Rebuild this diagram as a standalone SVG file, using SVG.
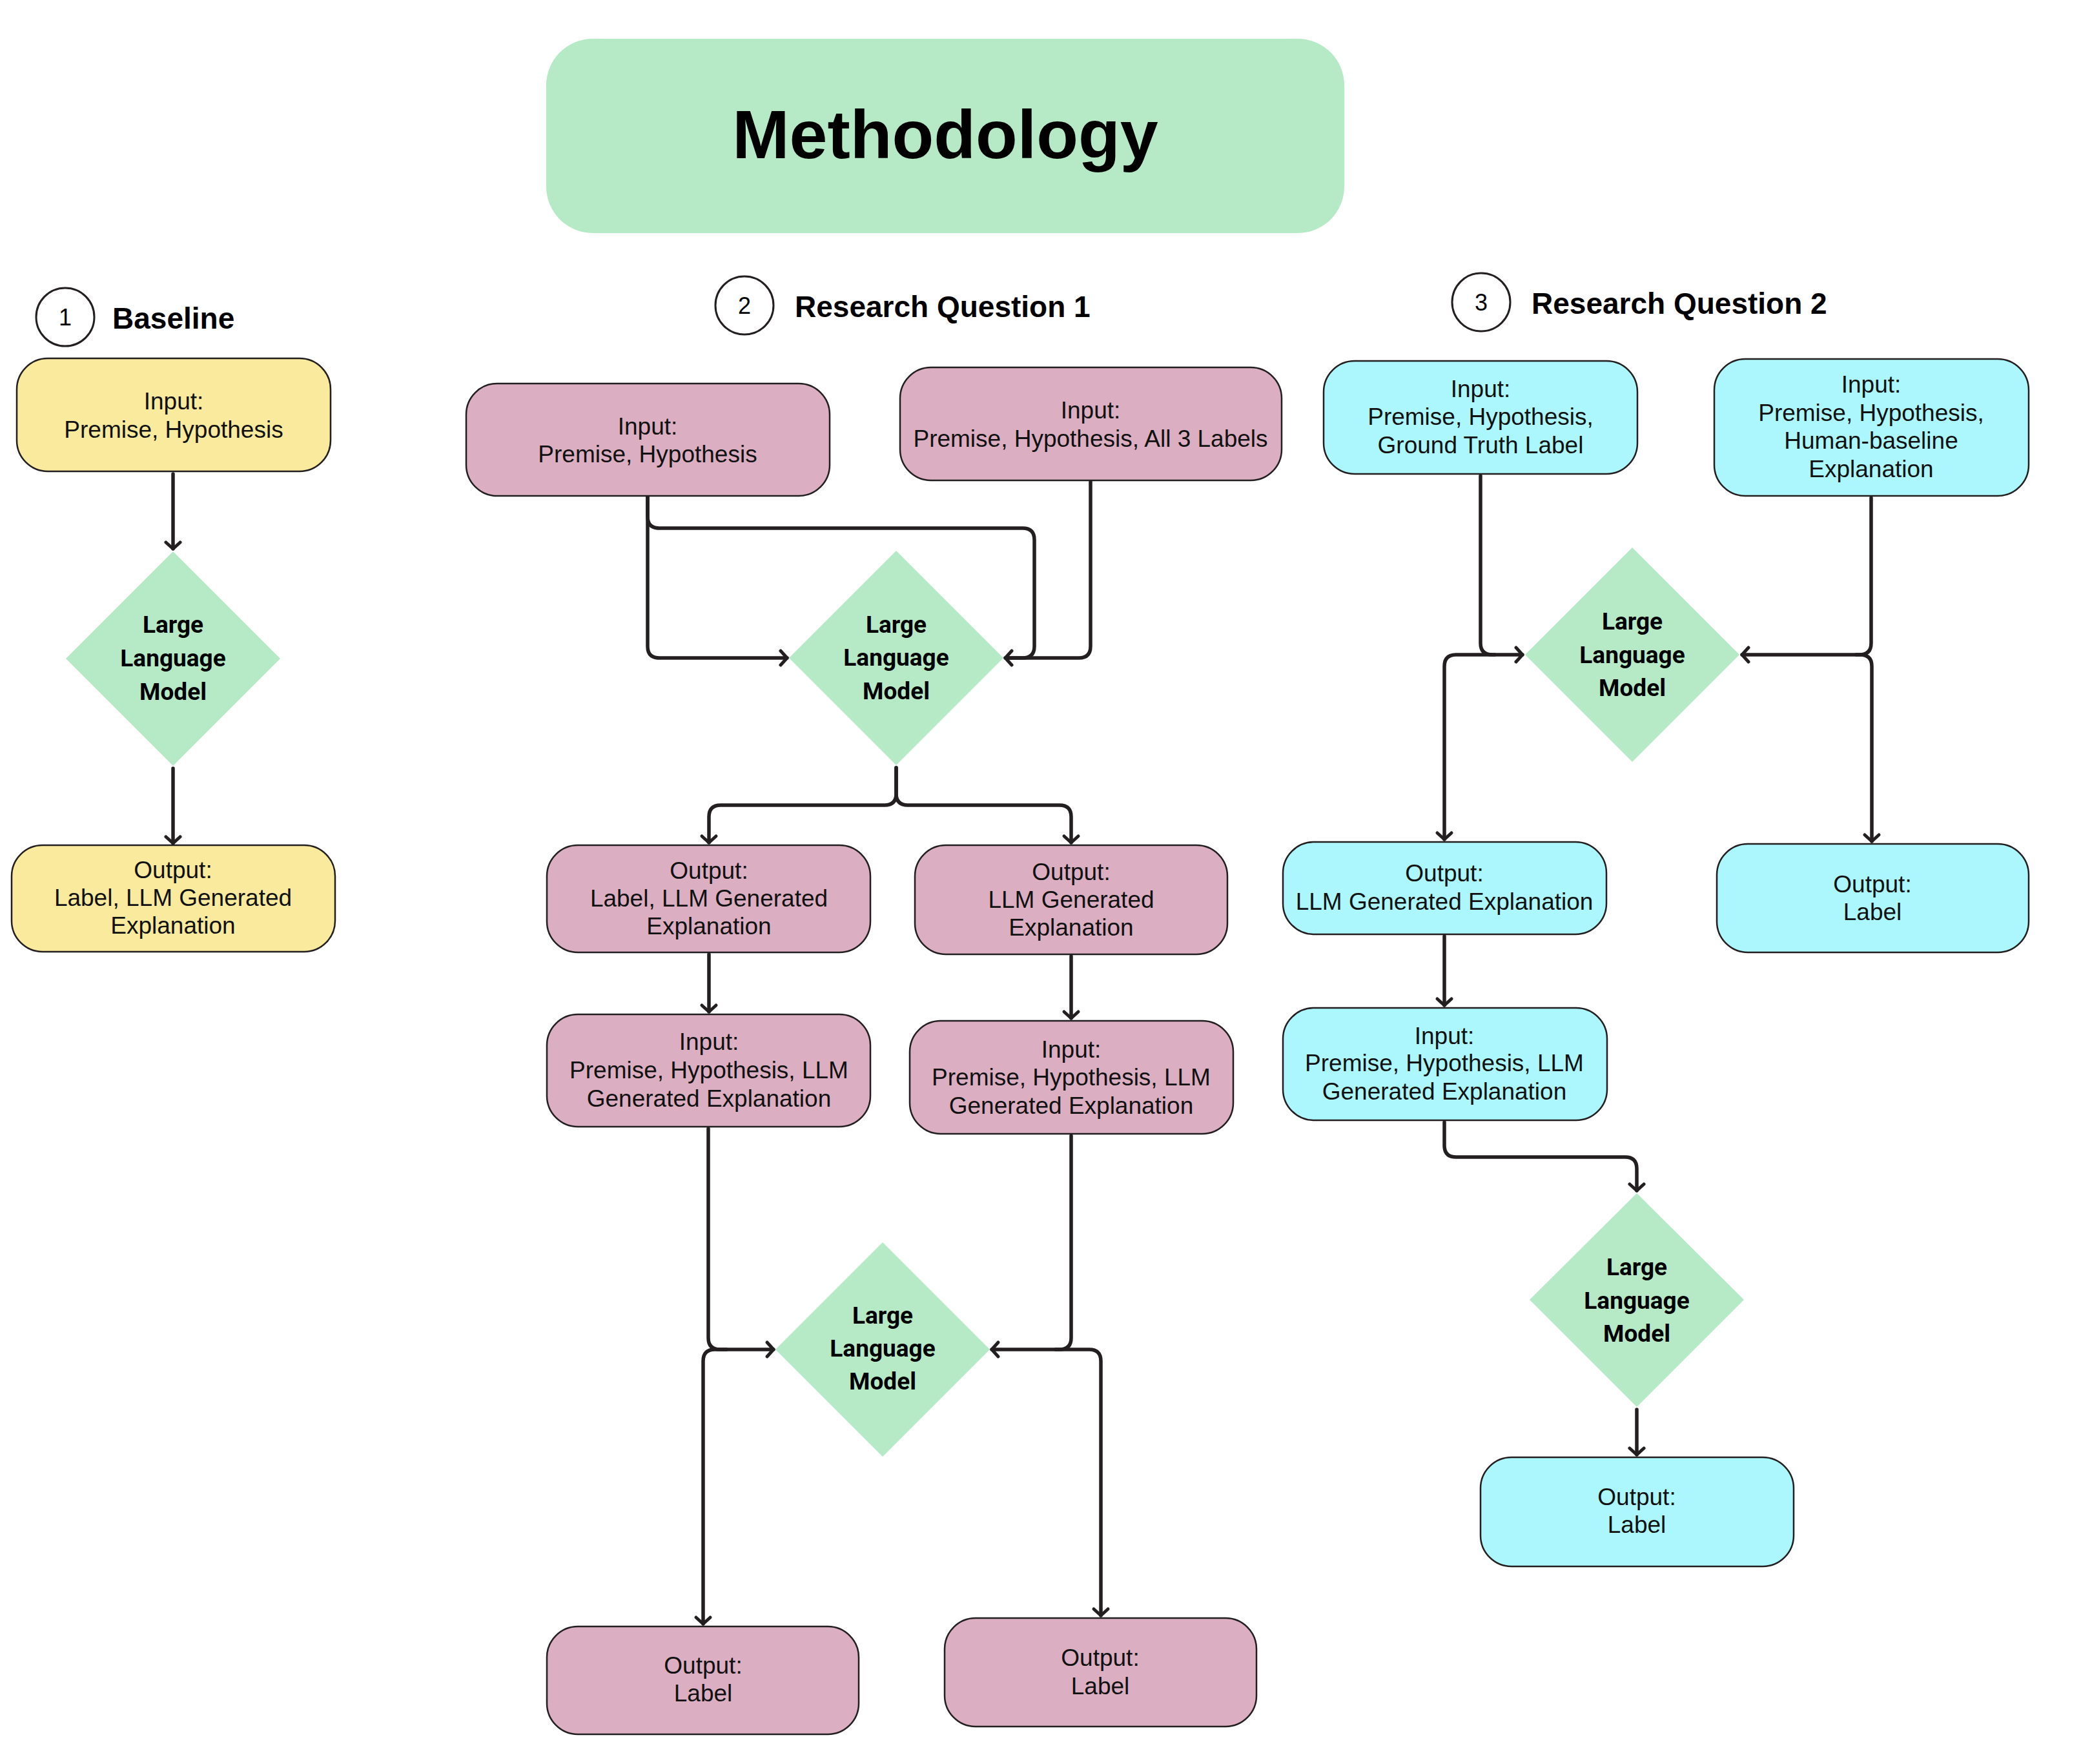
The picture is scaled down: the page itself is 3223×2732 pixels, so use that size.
<svg xmlns="http://www.w3.org/2000/svg" width="3223" height="2732" viewBox="0 0 3223 2732">
<defs>
<style>
.box{stroke:#231f20;stroke-width:2.5}
.y{fill:#f9ea9d}
.p{fill:#dbafc1}
.c{fill:#abf7fd}
.g{fill:#b6eac6}
.t{font-family:"Liberation Sans",Arial,sans-serif;font-size:37px;fill:#111;text-anchor:middle}
.d{font-family:Roboto,"Liberation Sans",sans-serif;font-weight:700;font-size:37px;fill:#000;text-anchor:middle}
.h{font-family:"Liberation Sans",Arial,sans-serif;font-weight:700;font-size:46px;fill:#000}
.n{font-family:"Liberation Sans",Arial,sans-serif;font-size:36px;fill:#000;text-anchor:middle}
.circ{fill:#fff;stroke:#231f20;stroke-width:3}
.con path{fill:none;stroke:#231f20;stroke-width:5.5;stroke-linecap:round;stroke-linejoin:round}
.con path.a{marker-end:url(#arr)}
</style>
<marker id="arr" markerUnits="userSpaceOnUse" markerWidth="32" markerHeight="32" refX="15" refY="16" orient="auto">
<path d="M5,5 L15,16 L5,27" fill="none" stroke="#231f20" stroke-width="5" stroke-linecap="round" stroke-linejoin="round"/>
</marker>
</defs>
<rect width="3223" height="2732" fill="#fff"/>

<g id="title">
<rect x="846" y="60" width="1236" height="301" rx="72" class="g"/>
<text x="1464" y="245" font-family="'Liberation Sans',Arial,sans-serif" font-weight="700" font-size="106" text-anchor="middle" fill="#000">Methodology</text>
</g>

<g id="heading-baseline">
<circle cx="101" cy="491" r="45" class="circ"/>
<text x="101" y="504" class="n">1</text>
<text x="174" y="509" class="h">Baseline</text>
</g>
<g id="heading-rq1">
<circle cx="1153" cy="473" r="45" class="circ"/>
<text x="1153" y="486" class="n">2</text>
<text x="1231" y="491" class="h">Research Question 1</text>
</g>
<g id="heading-rq2">
<circle cx="2294" cy="468" r="45" class="circ"/>
<text x="2294" y="481" class="n">3</text>
<text x="2372" y="486" class="h">Research Question 2</text>
</g>

<!-- Baseline -->
<g id="b-input">
<rect x="26" y="555" width="486" height="175" rx="48" class="box y"/>
<text class="t"><tspan x="269" y="634">Input:</tspan><tspan x="269" y="678">Premise, Hypothesis</tspan></text>
</g>
<g id="b-llm">
<polygon points="268,854 434,1020 268,1186 102,1020" class="g"/>
<text class="d"><tspan x="268" y="980">Large</tspan><tspan x="268" y="1032">Language</tspan><tspan x="268" y="1084">Model</tspan></text>
</g>
<g id="b-output">
<rect x="18" y="1309" width="501" height="165" rx="48" class="box y"/>
<text class="t"><tspan x="268" y="1360">Output:</tspan><tspan x="268" y="1403">Label, LLM Generated</tspan><tspan x="268" y="1446">Explanation</tspan></text>
</g>

<!-- RQ1 -->
<g id="rq1-input-ph">
<rect x="722" y="594" width="563" height="174" rx="48" class="box p"/>
<text class="t"><tspan x="1003" y="673">Input:</tspan><tspan x="1003" y="716">Premise, Hypothesis</tspan></text>
</g>
<g id="rq1-input-all3">
<rect x="1394" y="569" width="591" height="175" rx="48" class="box p"/>
<text class="t"><tspan x="1689" y="648">Input:</tspan><tspan x="1689" y="692">Premise, Hypothesis, All 3 Labels</tspan></text>
</g>
<g id="rq1-llm1">
<polygon points="1388,853 1554,1019 1388,1185 1222,1019" class="g"/>
<text class="d"><tspan x="1388" y="980">Large</tspan><tspan x="1388" y="1031">Language</tspan><tspan x="1388" y="1083">Model</tspan></text>
</g>
<g id="rq1-out-label-expl">
<rect x="847" y="1309" width="501" height="166" rx="48" class="box p"/>
<text class="t"><tspan x="1098" y="1361">Output:</tspan><tspan x="1098" y="1404">Label, LLM Generated</tspan><tspan x="1098" y="1447">Explanation</tspan></text>
</g>
<g id="rq1-out-expl">
<rect x="1417" y="1309" width="484" height="169" rx="48" class="box p"/>
<text class="t"><tspan x="1659" y="1363">Output:</tspan><tspan x="1659" y="1406">LLM Generated</tspan><tspan x="1659" y="1449">Explanation</tspan></text>
</g>
<g id="rq1-input-l2">
<rect x="847" y="1571" width="501" height="174" rx="48" class="box p"/>
<text class="t"><tspan x="1098" y="1626">Input:</tspan><tspan x="1098" y="1670">Premise, Hypothesis, LLM</tspan><tspan x="1098" y="1714">Generated Explanation</tspan></text>
</g>
<g id="rq1-input-r2">
<rect x="1409" y="1581" width="501" height="175" rx="48" class="box p"/>
<text class="t"><tspan x="1659" y="1638">Input:</tspan><tspan x="1659" y="1681">Premise, Hypothesis, LLM</tspan><tspan x="1659" y="1725">Generated Explanation</tspan></text>
</g>
<g id="rq1-llm2">
<polygon points="1367,1924 1533,2090 1367,2256 1201,2090" class="g"/>
<text class="d"><tspan x="1367" y="2050">Large</tspan><tspan x="1367" y="2101">Language</tspan><tspan x="1367" y="2152">Model</tspan></text>
</g>
<g id="rq1-out-label-l">
<rect x="847" y="2519" width="483" height="167" rx="48" class="box p"/>
<text class="t"><tspan x="1089" y="2592">Output:</tspan><tspan x="1089" y="2635">Label</tspan></text>
</g>
<g id="rq1-out-label-r">
<rect x="1463" y="2506" width="483" height="168" rx="48" class="box p"/>
<text class="t"><tspan x="1704" y="2580">Output:</tspan><tspan x="1704" y="2624">Label</tspan></text>
</g>

<!-- RQ2 -->
<g id="rq2-input-gt">
<rect x="2050" y="559" width="486" height="175" rx="48" class="box c"/>
<text class="t"><tspan x="2293" y="615">Input:</tspan><tspan x="2293" y="658">Premise, Hypothesis,</tspan><tspan x="2293" y="702">Ground Truth Label</tspan></text>
</g>
<g id="rq2-input-hb">
<rect x="2655" y="556" width="487" height="212" rx="48" class="box c"/>
<text class="t"><tspan x="2898" y="608">Input:</tspan><tspan x="2898" y="652">Premise, Hypothesis,</tspan><tspan x="2898" y="695">Human-baseline</tspan><tspan x="2898" y="739">Explanation</tspan></text>
</g>
<g id="rq2-llm1">
<polygon points="2528,848 2694,1014 2528,1180 2362,1014" class="g"/>
<text class="d"><tspan x="2528" y="975">Large</tspan><tspan x="2528" y="1027">Language</tspan><tspan x="2528" y="1078">Model</tspan></text>
</g>
<g id="rq2-out-expl">
<rect x="1987" y="1304" width="501" height="143" rx="48" class="box c"/>
<text class="t"><tspan x="2237" y="1365">Output:</tspan><tspan x="2237" y="1409">LLM Generated Explanation</tspan></text>
</g>
<g id="rq2-out-label">
<rect x="2659" y="1307" width="483" height="168" rx="48" class="box c"/>
<text class="t"><tspan x="2900" y="1382">Output:</tspan><tspan x="2900" y="1425">Label</tspan></text>
</g>
<g id="rq2-input-llm">
<rect x="1987" y="1561" width="502" height="174" rx="48" class="box c"/>
<text class="t"><tspan x="2237" y="1617">Input:</tspan><tspan x="2237" y="1659">Premise, Hypothesis, LLM</tspan><tspan x="2237" y="1703">Generated Explanation</tspan></text>
</g>
<g id="rq2-llm2">
<polygon points="2535,1848 2701,2013 2535,2179 2369,2013" class="g"/>
<text class="d"><tspan x="2535" y="1975">Large</tspan><tspan x="2535" y="2027">Language</tspan><tspan x="2535" y="2078">Model</tspan></text>
</g>
<g id="rq2-out-label2">
<rect x="2293" y="2257" width="485" height="169" rx="48" class="box c"/>
<text class="t"><tspan x="2535" y="2331">Output:</tspan><tspan x="2535" y="2374">Label</tspan></text>
</g>

<g id="connectors" class="con">
<!-- baseline -->
<path class="a" d="M268,734 V850"/>
<path class="a" d="M268,1190 V1306"/>
<!-- rq1 top -->
<path class="a" d="M1003,770 V1001 Q1003,1019 1021,1019 H1219"/>
<path d="M1003,770 V800 Q1003,818 1021,818 H1584 Q1602,818 1602,836 V1001 Q1602,1019 1584,1019 H1560"/>
<path class="a" d="M1689,746 V1001 Q1689,1019 1671,1019 H1557"/>
<!-- rq1 split -->
<path class="a" d="M1388,1189 V1229 Q1388,1247 1370,1247 H1116 Q1098,1247 1098,1265 V1305"/>
<path class="a" d="M1388,1189 V1229 Q1388,1247 1406,1247 H1641 Q1659,1247 1659,1265 V1305"/>
<path class="a" d="M1098,1478 V1567"/>
<path class="a" d="M1659,1481 V1577"/>
<!-- rq1 bottom -->
<path class="a" d="M1097,1748 V2072 Q1097,2090 1115,2090 H1198"/>
<path class="a" d="M1125,2090 H1107 Q1089,2090 1089,2108 V2515"/>
<path class="a" d="M1659,1759 V2072 Q1659,2090 1641,2090 H1536"/>
<path class="a" d="M1635,2090 H1687 Q1705,2090 1705,2108 V2502"/>
<!-- rq2 -->
<path class="a" d="M2293,737 V996 Q2293,1014 2311,1014 H2358"/>
<path class="a" d="M2315,1014 H2255 Q2237,1014 2237,1032 V1300"/>
<path class="a" d="M2898,771 V996 Q2898,1014 2880,1014 H2698"/>
<path class="a" d="M2875,1014 H2881 Q2899,1014 2899,1032 V1303"/>
<path class="a" d="M2237,1450 V1557"/>
<path class="a" d="M2237,1738 V1774 Q2237,1792 2255,1792 H2517 Q2535,1792 2535,1810 V1844"/>
<path class="a" d="M2535,2183 V2253"/>
</g>
</svg>
